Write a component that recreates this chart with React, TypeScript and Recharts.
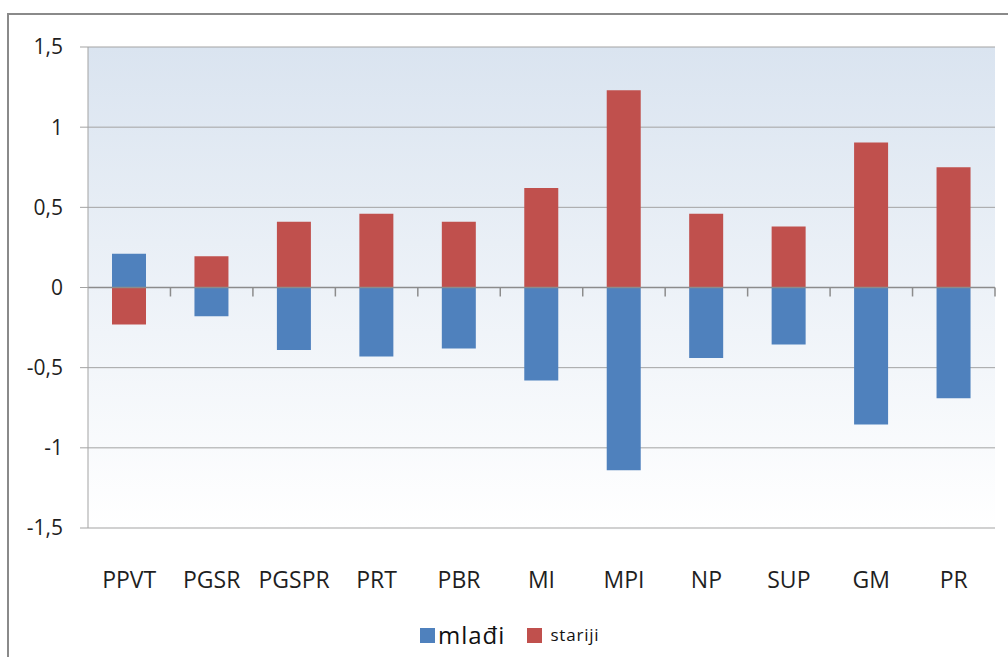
import { BarChart, Bar, XAxis, YAxis, CartesianGrid, ReferenceLine } from "recharts";

const categories = ["PPVT", "PGSR", "PGSPR", "PRT", "PBR", "MI", "MPI", "NP", "SUP", "GM", "PR"];
const mladi = [0.21, -0.18, -0.39, -0.43, -0.38, -0.58, -1.14, -0.44, -0.355, -0.855, -0.69];
const stariji = [-0.23, 0.195, 0.41, 0.46, 0.41, 0.62, 1.23, 0.46, 0.38, 0.905, 0.75];
const yTicks = [-1.5, -1, -0.5, 0, 0.5, 1, 1.5];

const data = categories.map((name, i) => ({ name, mladi: mladi[i], stariji: stariji[i] }));

// category boundary ticks hanging from the zero line
const boundaries = [
  ...categories.slice(1).map((c) => ({ x: c, position: "start" as const })),
  { x: categories[categories.length - 1], position: "end" as const },
];

const BLUE = "#4f81bd";
const RED = "#c0504d";
const GRID = "#a3a3a3";
const TEXT = "#1f1f1f";
const FONT = "'Open Sans', sans-serif";

export default function App() {
  return (
    <div style={{ position: "fixed", left: 0, top: 0, width: 1008, height: 657, background: "#fff", overflow: "hidden" }}>
      <svg width={0} height={0} style={{ position: "absolute" }}>
        <defs>
          <linearGradient id="plotBg" x1="0" y1="0" x2="0" y2="1">
            <stop offset="0%" stopColor="#dae4f0" />
            <stop offset="100%" stopColor="#ffffff" />
          </linearGradient>
        </defs>
      </svg>
      {/* outer frame */}
      <div
        style={{
          position: "absolute",
          left: 7,
          top: 13,
          width: 1010,
          height: 660,
          borderTop: "2px solid #8a8a8a",
          borderLeft: "2px solid #8a8a8a",
        }}
      />
      <div style={{ position: "absolute", left: 0, top: 0 }}>
        <BarChart
          width={1008}
          height={657}
          data={data}
          stackOffset="sign"
          barSize={34}
          margin={{ top: 47, right: 13, left: 8, bottom: 0 }}
        >
          <CartesianGrid vertical={false} stroke={GRID} fill="url(#plotBg)" fillOpacity={1} />
          <XAxis
            dataKey="name"
            height={129}
            axisLine={false}
            tickLine={false}
            tickSize={0}
            tickMargin={44}
            interval={0}
            tick={{ fill: TEXT, fontSize: 23, fontFamily: FONT }}
          />
          <YAxis
            width={80}
            domain={[-1.5, 1.5]}
            ticks={yTicks}
            interval={0}
            allowDataOverflow
            stroke={GRID}
            tickSize={8}
            tickMargin={17}
            tickFormatter={(v: number) => String(v).replace(".", ",")}
            tick={{ fill: TEXT, fontSize: 21, fontFamily: FONT }}
          />
          <ReferenceLine y={0} stroke="#8c8c8c" strokeWidth={1.5} />
          {boundaries.map((b, i) => (
            <ReferenceLine
              key={i}
              position={b.position}
              segment={[
                { x: b.x, y: 0 },
                { x: b.x, y: -0.056 },
              ]}
              stroke="#8c8c8c"
              strokeWidth={1.5}
            />
          ))}
          <Bar dataKey="mladi" stackId="a" fill={BLUE} isAnimationActive={false} />
          <Bar dataKey="stariji" stackId="a" fill={RED} isAnimationActive={false} />
        </BarChart>
      </div>
      {/* legend */}
      <div
        style={{
          position: "absolute",
          left: 420,
          top: 620,
          display: "flex",
          alignItems: "center",
          fontFamily: FONT,
          color: "#111",
        }}
      >
        <span style={{ width: 15, height: 15, background: BLUE, display: "inline-block", marginRight: 3 }} />
        <span style={{ fontSize: 24, letterSpacing: 1, lineHeight: "30px" }}>mlađi</span>
        <span style={{ width: 15, height: 15, background: RED, display: "inline-block", marginLeft: 22, marginRight: 8 }} />
        <span style={{ fontSize: 17, letterSpacing: 0.8, lineHeight: "30px" }}>stariji</span>
      </div>
    </div>
  );
}
